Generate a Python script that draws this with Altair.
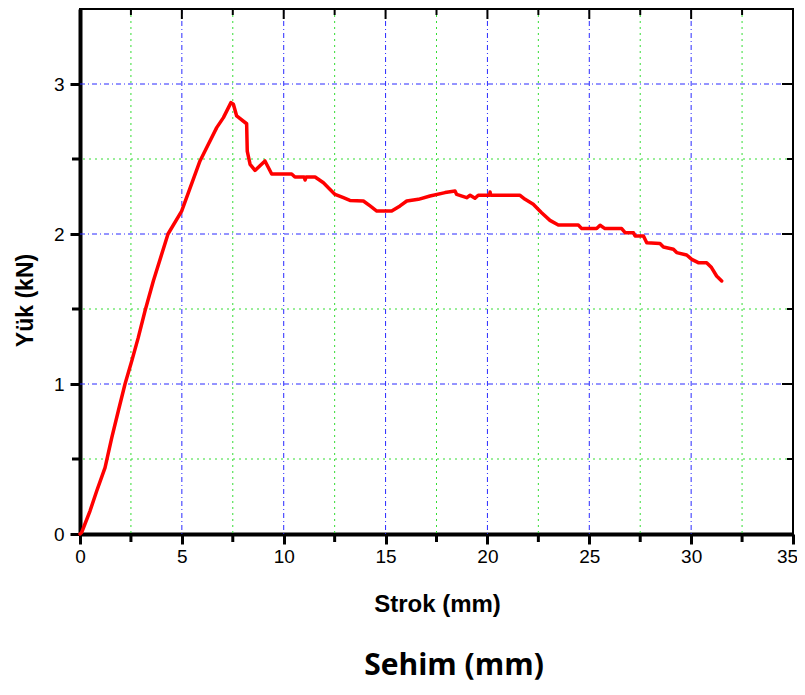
import altair as alt
import pandas as pd

# ---- data ----
strok_mm = [0, 0.08, 0.49, 0.82, 1.23, 1.56, 1.88, 2.21, 2.54, 2.86,
            3.19, 3.6, 4.32, 4.99, 5.89, 6.71, 7.04, 7.41, 7.53, 7.69,
            8.18, 8.21, 8.35, 8.59, 9.08, 9.41, 10.39, 10.55, 11.0, 11.05,
            11.1, 11.54, 11.95, 12.19, 12.52, 12.93, 13.25, 13.91, 14.24, 14.57,
            15.30, 15.71, 16.04, 16.61, 17.18, 17.92, 18.41, 18.49, 18.98, 19.15,
            19.39, 19.55, 20.1, 20.13, 20.16, 21.6, 21.85, 22.25, 22.66, 23.07,
            23.48, 24.46, 24.63, 25.36, 25.53, 25.77, 26.59, 26.76, 27.17, 27.25,
            27.66, 27.82, 28.47, 28.64, 29.13, 29.29, 29.78, 30.03, 30.35, 30.76,
            31.0, 31.25, 31.5]
yuk_kn = [0, 0.01, 0.153, 0.287, 0.442, 0.642, 0.82, 1.0, 1.153, 1.309,
          1.487, 1.687, 2.0, 2.153, 2.487, 2.709, 2.776, 2.876, 2.865, 2.787,
          2.735, 2.553, 2.464, 2.424, 2.487, 2.40, 2.40, 2.38, 2.38, 2.36,
          2.38, 2.38, 2.342, 2.309, 2.264, 2.242, 2.224, 2.22, 2.187, 2.153,
          2.153, 2.187, 2.22, 2.231, 2.253, 2.276, 2.287, 2.264, 2.242, 2.258,
          2.238, 2.258, 2.258, 2.28, 2.258, 2.258, 2.231, 2.198, 2.142, 2.091,
          2.06, 2.06, 2.036, 2.036, 2.058, 2.036, 2.036, 2.009, 2.009, 1.987,
          1.987, 1.942, 1.936, 1.913, 1.898, 1.876, 1.86, 1.831, 1.809, 1.809,
          1.776, 1.72, 1.687]

x_major = [0, 5, 10, 15, 20, 25, 30, 35]
x_minor = [2.5, 7.5, 12.5, 17.5, 22.5, 27.5, 32.5]
y_major = [0, 1, 2, 3]
y_minor = [0.5, 1.5, 2.5]
x_grid_major = [5, 10, 15, 20, 25, 30]
y_grid_major = [1, 2, 3]

x_title = "Strok (mm)"
y_title = "Yük (kN)"
bottom_caption = ["Sehim (mm)"]

W, H = 713, 525

curve = pd.DataFrame({"x": strok_mm, "y": yuk_kn, "i": range(len(strok_mm))})

xs = alt.Scale(domain=[0, 35], nice=False, zero=False)
ys = alt.Scale(domain=[0, 3.5], nice=False, zero=False)

x_axis = alt.Axis(values=x_major, title=x_title, tickSize=10, tickWidth=3,
                  tickColor="black", domainColor="black", domainWidth=4,
                  labelFont="Liberation Sans", labelFontSize=19, labelColor="black",
                  labelPadding=3, grid=False, labelFlush=False,
                  labelOffset={"condition": {"test": "datum.value == 35", "value": -6},
                               "value": 0},
                  titleFont="Liberation Sans", titleFontSize=24, titleFontWeight="bold",
                  titleColor="black", titleX=357, titleY=70, titleBaseline="middle",
                  titleAnchor="start", titleAlign="center")
y_axis = alt.Axis(values=y_major, title=y_title, tickSize=10, tickWidth=3,
                  tickColor="black", domainColor="black", domainWidth=4,
                  labelFont="Liberation Sans", labelFontSize=19, labelColor="black",
                  labelPadding=6, grid=False, labelFlush=False,
                  titleFont="Liberation Sans", titleFontSize=23, titleFontWeight="bold",
                  titleColor="black", titleAngle=-90, titleX=-55, titleY=291,
                  titleBaseline="middle", titleAlign="center", titleAnchor="start")

grid_minor_v = alt.Chart(pd.DataFrame({"x": x_minor})).mark_rule(
    color="#33dd33", strokeWidth=1, strokeDash=[2, 4]).encode(
    x=alt.X("x:Q", scale=xs, axis=x_axis))
grid_minor_h = alt.Chart(pd.DataFrame({"y": y_minor})).mark_rule(
    color="#33dd33", strokeWidth=1, strokeDash=[2, 4]).encode(
    y=alt.Y("y:Q", scale=ys, axis=y_axis))
grid_major_v = alt.Chart(pd.DataFrame({"x": x_grid_major})).mark_rule(
    color="#2a2aff", strokeWidth=1, strokeDash=[5, 3, 1, 3]).encode(
    x=alt.X("x:Q", scale=xs, axis=x_axis))
grid_major_h = alt.Chart(pd.DataFrame({"y": y_grid_major})).mark_rule(
    color="#2a2aff", strokeWidth=1, strokeDash=[5, 3, 1, 3]).encode(
    y=alt.Y("y:Q", scale=ys, axis=y_axis))

# minor ticks and inward ticks on top / right
tick_bottom_minor = alt.Chart(pd.DataFrame({"x": x_minor})).mark_rule(
    color="black", strokeWidth=3).encode(
    x=alt.X("x:Q", scale=xs, axis=x_axis), y=alt.value(H), y2=alt.value(H + 8))
tick_left_minor = alt.Chart(pd.DataFrame({"y": y_minor})).mark_rule(
    color="black", strokeWidth=3).encode(
    y=alt.Y("y:Q", scale=ys, axis=y_axis), x=alt.value(0), x2=alt.value(-8))
tick_top_major = alt.Chart(pd.DataFrame({"x": x_major[1:-1]})).mark_rule(
    color="black", strokeWidth=2).encode(
    x=alt.X("x:Q", scale=xs, axis=x_axis), y=alt.value(0), y2=alt.value(10))
tick_top_minor = alt.Chart(pd.DataFrame({"x": x_minor})).mark_rule(
    color="black", strokeWidth=2).encode(
    x=alt.X("x:Q", scale=xs, axis=x_axis), y=alt.value(0), y2=alt.value(6))
tick_right_major = alt.Chart(pd.DataFrame({"y": y_major[1:]})).mark_rule(
    color="black", strokeWidth=2).encode(
    y=alt.Y("y:Q", scale=ys, axis=y_axis), x=alt.value(W), x2=alt.value(W - 11))
tick_right_minor = alt.Chart(pd.DataFrame({"y": y_minor})).mark_rule(
    color="black", strokeWidth=2).encode(
    y=alt.Y("y:Q", scale=ys, axis=y_axis), x=alt.value(W), x2=alt.value(W - 6))

line = alt.Chart(curve).mark_line(color="#ff0000", strokeWidth=3.5,
                                  strokeJoin="round", strokeCap="round").encode(
    x=alt.X("x:Q", scale=xs, axis=x_axis),
    y=alt.Y("y:Q", scale=ys, axis=y_axis),
    order="i:Q")

caption = alt.Chart(pd.DataFrame({"t": bottom_caption})).mark_text(
    font="Open Sans", fontSize=30, fontWeight="bold", color="black",
    align="center", baseline="alphabetic").encode(
    text="t:N", x=alt.value(374), y=alt.value(666))

chart = alt.layer(
    grid_minor_v, grid_minor_h, grid_major_v, grid_major_h,
    tick_bottom_minor, tick_left_minor, tick_top_major, tick_top_minor,
    tick_right_major, tick_right_minor, line, caption
).properties(
    width=W, height=H,
    padding={"left": 72, "top": 1, "right": 4, "bottom": 151},
    autosize=alt.AutoSizeParams(type="none"),
).configure_view(stroke="black", strokeWidth=2)

chart.save("out.html", embed_options={"renderer": "svg", "actions": False})
